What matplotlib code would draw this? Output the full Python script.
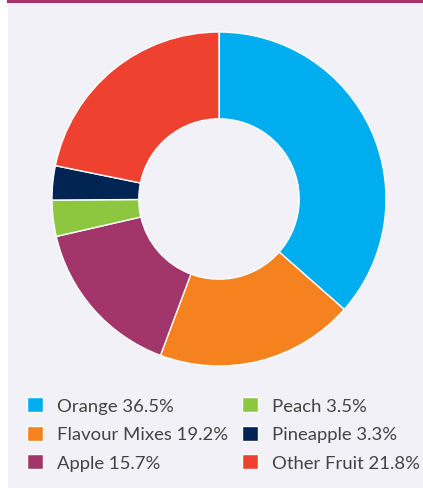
import matplotlib.pyplot as plt
from matplotlib.patches import Rectangle

# Share of juice consumption by flavour
labels = ["Orange", "Flavour Mixes", "Apple", "Peach", "Pineapple", "Other Fruit"]
shares = [36.5, 19.2, 15.7, 3.5, 3.3, 21.8]
colors = ["#00AEEF", "#F5821F", "#A2356A", "#8DC63F", "#002554", "#EF4130"]

BG = "#F1F1F7"
BAR = "#A3366B"

plt.rcParams["font.family"] = ["Lato", "DejaVu Sans"]

fig = plt.figure(figsize=(4.23, 4.89), dpi=100)
fig.patch.set_facecolor("white")

# grey panel + purple top rule
fig.patches.append(Rectangle((8 / 423, 0), 1, 1 - 3 / 489, transform=fig.transFigure,
                             facecolor=BG, edgecolor="none", zorder=-2))
fig.patches.append(Rectangle((7 / 423, 1 - 4 / 489), 1, 4 / 489, transform=fig.transFigure,
                             facecolor=BAR, edgecolor="none", zorder=-2))

ax = fig.add_axes([52 / 423, 122 / 489, 334 / 423, 334 / 489])
ax.set_facecolor("none")
wedges, _ = ax.pie(shares, colors=colors, startangle=90, counterclock=False,
                   radius=1.0, wedgeprops=dict(width=0.52, edgecolor="white", linewidth=1))
ax.set_xlim(-1, 1)
ax.set_ylim(-1, 1)
ax.set_aspect("equal")
ax.axis("off")

leg_labels = [f"{n} {v}%" for n, v in zip(labels, shares)]
fig.legend(wedges, leg_labels, ncol=2, frameon=False, fontsize=13.3,
           loc="upper left", bbox_to_anchor=(20 / 423, 1 - 391 / 489),
           handlelength=0.86, handleheight=0.86, handletextpad=0.72,
           columnspacing=0.8, labelspacing=0.62, labelcolor="#444444",
           borderaxespad=0)

fig.savefig("out.png", dpi=100, facecolor=fig.get_facecolor())
